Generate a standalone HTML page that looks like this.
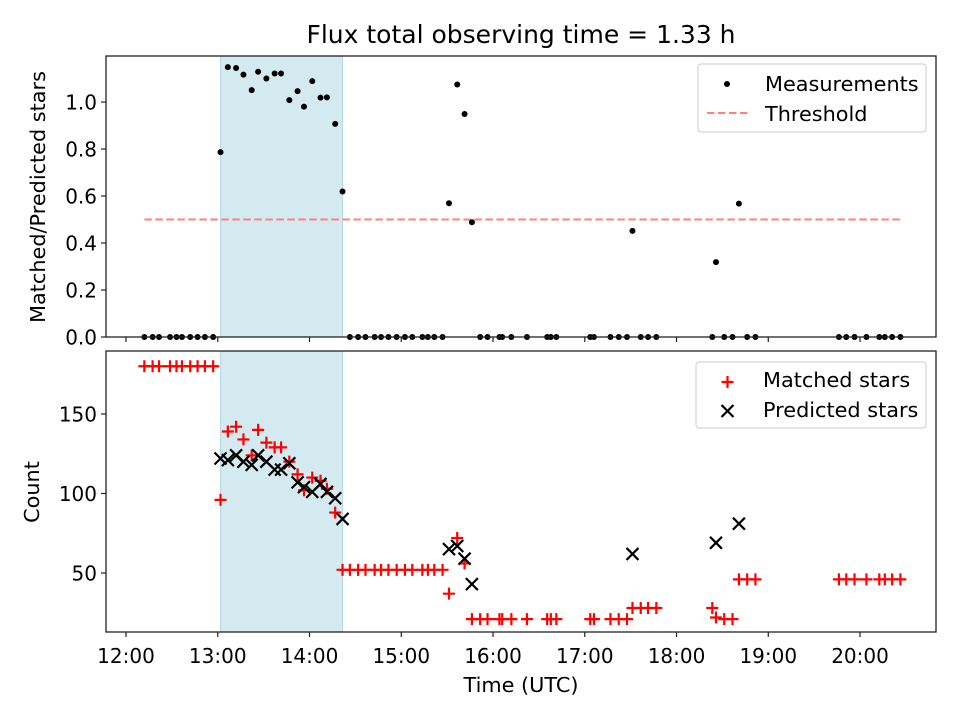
<!DOCTYPE html>
<html><head><meta charset="utf-8">
<style>
html,body{margin:0;padding:0;background:#fff;}
svg{display:block;font-family:"DejaVu Sans","Liberation Sans",sans-serif;}
</style></head>
<body>
<svg id="chart" width="960" height="720" viewBox="0 0 960 720" xmlns="http://www.w3.org/2000/svg">
<text x="521" y="43" font-size="25" text-anchor="middle">Flux total observing time = 1.33 h</text>
<g id="topPanel"></g>
<g id="botPanel"></g>
<g font-family="DejaVu Sans, Liberation Sans, sans-serif">
<text transform="translate(45,197) rotate(-90)" font-size="20.8" text-anchor="middle">Matched/Predicted stars</text>
<text transform="translate(39,492) rotate(-90)" font-size="20.8" text-anchor="middle">Count</text>
<text x="521" y="692" font-size="20.8" text-anchor="middle">Time (UTC)</text>
<g>
<rect x="698" y="64" width="228" height="68" rx="3" fill="#fff" fill-opacity="0.8" stroke="#ccc"/>
<circle cx="727" cy="84" r="3" fill="#000"/>
<text x="765" y="91" font-size="20.8">Measurements</text>
<line x1="707" x2="748" y1="113" y2="113" stroke="#ff8080" stroke-width="2" stroke-dasharray="7.5,3.5"/>
<text x="765" y="121" font-size="20.8">Threshold</text>
</g>
<g>
<rect x="696" y="362" width="230" height="66" rx="3" fill="#fff" fill-opacity="0.8" stroke="#ccc"/>
<path d="M721.5,382H733.5M727.5,376V388" stroke="#ff0000" stroke-width="2.2"/>
<text x="763" y="387" font-size="20.8">Matched stars</text>
<path d="M721.5,405L733.5,417M721.5,417L733.5,405" stroke="#000" stroke-width="2.2"/>
<text x="763" y="417" font-size="20.8">Predicted stars</text>
</g>
</g>
</svg>
<script>
const times = [12.20,12.29,12.36,12.48,12.55,12.61,12.70,12.78,12.86,12.95,
13.03,13.11,13.20,13.28,13.37,13.44,13.53,13.62,13.69,13.78,13.87,13.94,14.03,14.12,14.19,14.28,14.36,
14.44,14.53,14.61,14.71,14.78,14.86,14.95,15.04,15.12,15.23,15.29,15.36,15.45,
15.52,15.61,15.69,15.77,
15.86,15.94,16.07,16.10,16.20,16.37,16.59,16.63,16.69,17.06,17.10,17.28,17.37,17.46,
17.52,17.61,17.69,17.78,18.39,18.43,18.52,18.61,18.68,18.77,18.86,
19.77,19.85,19.94,20.07,20.21,20.27,20.35,20.44];
const matched = [180,180,180,180,180,180,180,180,180,180,
96,139,142,134,124,140,132,129,129,120,112,102,110,108,103,88,52,
52,52,52,52,52,52,52,52,52,52,52,52,52,
37,72,56,21,
21,21,21,21,21,21,21,21,21,21,21,21,21,21,
28,28,28,28,28,22,21,21,46,46,46,
46,46,46,46,46,46,46,46];
const predicted = [null,null,null,null,null,null,null,null,null,null,
122,121,124,120,118,124,120,115,115,119,107,104,101,106,101,97,84,
null,null,null,null,null,null,null,null,null,null,null,null,null,
65,67,59,43,
null,null,null,null,null,null,null,null,null,null,null,null,null,null,
62,null,null,null,null,69,null,null,81,null,null,
null,null,null,null,null,null,null,null];
const threshold = 0.5;
const goodStart = 13.03, goodEnd = 14.36;
const xTickLabels = ["12:00","13:00","14:00","15:00","16:00","17:00","18:00","19:00","20:00"];
const xTickHours = [12,13,14,15,16,17,18,19,20];
const yTopTicks = [0.0,0.2,0.4,0.6,0.8,1.0];
const yBotTicks = [50,100,150];

const NS="http://www.w3.org/2000/svg";
const L=106,R=936;
const xMin=11.782,xMax=20.828;
const X=t=>L+(t-xMin)/(xMax-xMin)*(R-L);
const TT=56,TB=337, yTopMax=1.196;
const YT=v=>TB-v/yTopMax*(TB-TT);
const BT=351,BB=632, bMin=12.9,bMax=189.6;
const YB=v=>BB-(v-bMin)/(bMax-bMin)*(BB-BT);
function el(tag,attrs,parent,txt){const e=document.createElementNS(NS,tag);for(const k in attrs)e.setAttribute(k,attrs[k]);if(txt!=null)e.textContent=txt;parent.appendChild(e);return e;}
const topG=document.getElementById('topPanel'), botG=document.getElementById('botPanel');

function panel(g,yT,yBt){
  const s=el('rect',{x:X(goodStart),y:yT,width:X(goodEnd)-X(goodStart),height:yBt-yT,fill:'#d4eaf1',stroke:'#b5d8e3','stroke-width':1},g);
  
  
}
panel(topG,TT,TB);panel(botG,BT,BB);

const th=el('line',{x1:X(times[0]),x2:X(times[times.length-1]),y1:YT(threshold),y2:YT(threshold),stroke:'#ff8080','stroke-width':2,'stroke-dasharray':'7.5,3.5'},topG);



times.forEach((t,i)=>{
  const r=predicted[i]?matched[i]/predicted[i]:0;
  const c=el('circle',{cx:X(t),cy:YT(r),r:3,fill:'#000'},topG);
  
  
});
times.forEach((t,i)=>{
  const x=X(t),y=YB(matched[i]);
  const p=el('path',{d:`M${x-6},${y}H${x+6}M${x},${y-6}V${y+6}`,stroke:'#ff0000','stroke-width':2.2},botG);
  
  
});
times.forEach((t,i)=>{
  if(predicted[i]==null)return;
  const x=X(t),y=YB(predicted[i]);
  const p=el('path',{d:`M${x-6},${y-6}L${x+6},${y+6}M${x-6},${y+6}L${x+6},${y-6}`,stroke:'#000','stroke-width':2.2},botG);
  
  
});

[[topG,TT,TB],[botG,BT,BB]].forEach(([g,a,b],k)=>{
  const f=el('rect',{x:L,y:a,width:R-L,height:b-a,fill:'none',stroke:'#222','stroke-width':1.3},g);
  
  
  xTickHours.forEach((h,i)=>{
    el('line',{x1:X(h),x2:X(h),y1:b,y2:b+5,stroke:'#222','stroke-width':1.2},g);
    if(k===1){
      const tx=el('text',{x:X(h),y:b+31,'font-size':20,'text-anchor':'middle'},g,xTickLabels[i]);
      
      
    }
  });
});
yTopTicks.forEach(v=>{
  el('line',{x1:L-5,x2:L,y1:YT(v),y2:YT(v),stroke:'#222','stroke-width':1.2},topG);
  const tx=el('text',{x:L-9,y:YT(v)+7.5,'font-size':20,'text-anchor':'end'},topG,v.toFixed(1));
  
  
});
yBotTicks.forEach(v=>{
  el('line',{x1:L-5,x2:L,y1:YB(v),y2:YB(v),stroke:'#222','stroke-width':1.2},botG);
  const tx=el('text',{x:L-9,y:YB(v)+7.5,'font-size':20,'text-anchor':'end'},botG,String(v));
  
  
});
</script>
</body></html>
